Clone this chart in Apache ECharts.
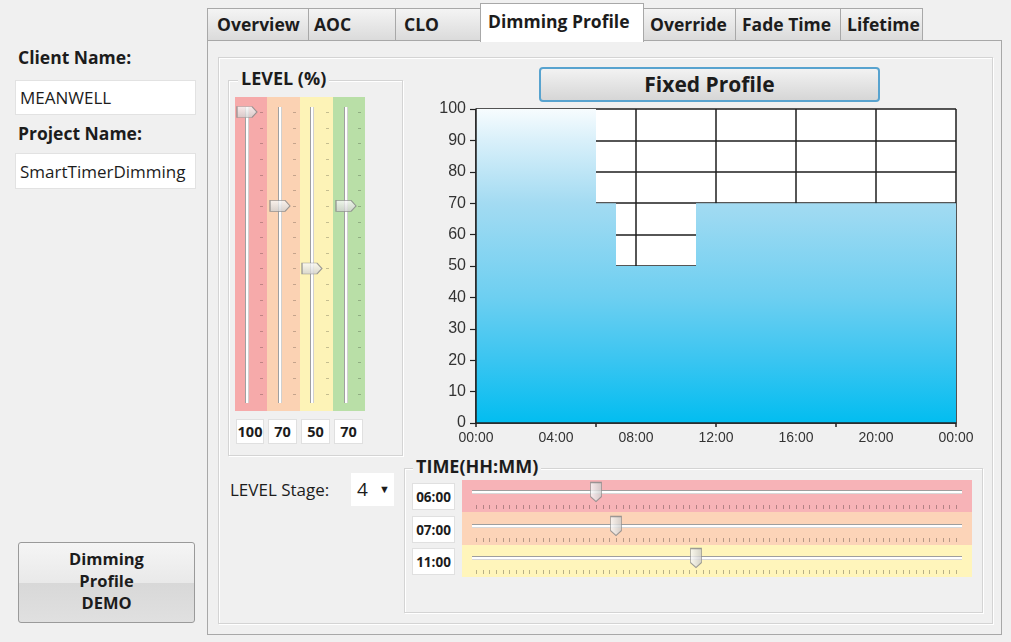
<!DOCTYPE html>
<html><head><meta charset="utf-8">
<script src="https://cdn.jsdelivr.net/npm/echarts@6/dist/echarts.min.js"></script>
<style>
html,body{margin:0;padding:0;background:#f0f0f0;}
#app{position:relative;width:1011px;height:642px;overflow:hidden;background:#f0f0f0;font-family:"Open Sans","Noto Sans",sans-serif;color:#1c1c1c;}
.a{position:absolute;box-sizing:border-box;}
.lbl{font-weight:700;font-size:17.5px;white-space:nowrap;}
.txt{background:#fff;border:1px solid #e2e2e2;font-size:17px;padding-left:4px;display:flex;align-items:center;white-space:nowrap;}
.tab{top:8px;height:33px;border:1px solid #a8a8a8;border-bottom:none;background:linear-gradient(#f4f4f4,#dadada);font-weight:700;font-size:17.5px;line-height:31px;white-space:nowrap;}
.tab.on{top:3px;height:39px;background:#fff;z-index:3;line-height:34px;}
.grp{border:1px solid #d4d4d4;box-shadow:inset 1px 1px 0 #fff,1px 1px 0 #fff;}
.gtitle{font-weight:700;font-size:18px;background:#f0f0f0;padding:0 3px;line-height:20px;}
.vbox{background:#fff;border:1px solid #e0e0e0;font-weight:700;font-size:14.5px;display:flex;align-items:center;justify-content:center;}
#chart{position:absolute;left:0;top:0;width:1011px;height:642px;z-index:10;pointer-events:none;}
</style></head>
<body><div id="app">
  <!-- left side -->
  <div class="a lbl" style="left:18px;top:45px;">Client Name:</div>
  <div class="a txt" style="left:15px;top:80px;width:181px;height:35px;">MEANWELL</div>
  <div class="a lbl" style="left:18px;top:121px;">Project Name:</div>
  <div class="a txt" style="left:15px;top:153px;width:181px;height:36px;">SmartTimerDimming</div>
  <div class="a" style="left:18px;top:542px;width:177px;height:81px;border:1px solid #9a9a9a;border-radius:3px;background:linear-gradient(#f5f5f5 0%,#e9e9e9 50%,#d8d8d8 51%,#e0e0e0 100%);font-weight:700;font-size:16.5px;line-height:22px;text-align:center;padding-top:5px;">Dimming<br>Profile<br>DEMO</div>

  <!-- tabs -->
  <div class="a tab" style="left:207px;width:102px;padding-left:9px;">Overview</div>
  <div class="a tab" style="left:308px;width:88px;padding-left:5px;">AOC</div>
  <div class="a tab" style="left:395px;width:86px;padding-left:8px;">CLO</div>
  <div class="a tab on" style="left:480px;width:164px;padding-left:7px;">Dimming Profile</div>
  <div class="a tab" style="left:643px;width:93px;padding-left:6px;">Override</div>
  <div class="a tab" style="left:735px;width:106px;padding-left:6px;">Fade Time</div>
  <div class="a tab" style="left:840px;width:83px;padding-left:6px;">Lifetime</div>

  <!-- tab panel -->
  <div class="a" style="left:207px;top:40px;width:795px;height:595px;border:1px solid #a8a8a8;background:#f0f0f0;z-index:1;"></div>
  <div class="a grp" style="left:218px;top:57px;width:775px;height:567px;z-index:2;"></div>

  <div id="ui" class="a" style="left:0;top:0;width:1011px;height:642px;z-index:4;">
    <!-- level group -->
    <div class="a grp" style="left:228px;top:80px;width:175px;height:376px;"></div>
    <div class="a gtitle" style="left:238px;top:68px;">LEVEL (%)</div>
    <div id="levelCols"></div>
    <div class="a" style="left:230px;top:478px;font-size:17px;">LEVEL Stage:</div>
    <div class="a" style="left:351px;top:473px;width:43px;height:33px;background:#fff;font-size:19px;line-height:32px;padding-left:6px;">4<span style="position:absolute;left:28px;top:0;font-size:11px;">&#9660;</span></div>
    <!-- time group -->
    <div class="a grp" style="left:404px;top:468px;width:579px;height:145px;"></div>
    <div class="a gtitle" style="left:413px;top:456px;">TIME(HH:MM)</div>
    <div id="timeRows"></div>
    <!-- fixed profile button -->
    <div class="a" style="left:539px;top:67px;width:341px;height:35px;border:2px solid #58a3cf;border-radius:4px;background:linear-gradient(#f2f2f2,#d6d6d6);font-weight:700;font-size:21px;text-align:center;line-height:30px;">Fixed Profile</div>
  </div>
  <div id="chart"></div>
</div>
<script>
// ---------------- data ----------------
const timeLabels = ['00:00','04:00','08:00','12:00','16:00','20:00','00:00'];
const levelValues = [100, 70, 50, 70];
const stageStartHours = [6, 7, 11];
const stageStartLabels = ['06:00','07:00','11:00'];

// ---------------- layout (positions / styles only) ----------------
const levelColColors = ['#f6aaaa','#fbd2b3','#fdf3b7','#b9dfa7'];
const levelColLeft = [235, 267, 300, 333];
const levelColWidth = [32, 33, 33, 32];
const levelTrackX = [247, 280, 312, 346];
const levelBoxes = [[236,28],[268,29],[301,29],[334,29]];
const timeBandColors = ['#f7b3b7','#fcd4b8','#fff5bb'];
const timeBandTop = [480, 512, 545];
const timeBandH = [32, 33, 32];
const timeTrackY = [492, 526, 558];
const timeBoxTop = [483, 516, 548];

const levelCols = document.getElementById('levelCols');
levelValues.forEach((v, i) => {
  levelCols.insertAdjacentHTML('beforeend',
    `<div class="a" style="left:${levelColLeft[i]}px;top:97px;width:${levelColWidth[i]}px;height:314px;background:${levelColColors[i]};"></div>` +
    `<div class="a" style="left:${levelColLeft[i]+levelColWidth[i]-7}px;top:112px;width:3px;height:291px;background:repeating-linear-gradient(to bottom,rgba(0,0,0,.22) 0 1px,transparent 1px 15.65px);"></div>` +
    `<div class="a" style="left:${levelTrackX[i]-2}px;top:107px;width:4px;height:296px;background:#fff;border-left:1px solid #a0a0a0;border-right:1px solid #d0d0d0;"></div>` +
    `<div class="a vbox" style="left:${levelBoxes[i][0]}px;top:419px;width:${levelBoxes[i][1]}px;height:25px;">${v}</div>`);
});
const timeRows = document.getElementById('timeRows');
stageStartLabels.forEach((t, i) => {
  timeRows.insertAdjacentHTML('beforeend',
    `<div class="a" style="left:462px;top:${timeBandTop[i]}px;width:510px;height:${timeBandH[i]}px;background:${timeBandColors[i]};"></div>` +
    `<div class="a" style="left:472px;top:${timeTrackY[i]-2}px;width:490px;height:4px;background:#fff;border-top:1px solid #9e9e9e;border-bottom:1px solid #d8d8d8;"></div>` +
    `<div class="a" style="left:476px;top:${timeBandTop[i]+timeBandH[i]-7}px;width:481px;height:4px;background:repeating-linear-gradient(to right,rgba(0,0,0,.28) 0 1px,transparent 1px 6.667px);"></div>` +
    `<div class="a vbox" style="left:412px;top:${timeBoxTop[i]}px;width:43px;height:27px;font-size:13.5px;">${t}</div>`);
});

// ---------------- chart ----------------
const profile = [[0, levelValues[0]]]
  .concat(stageStartHours.map((h, i) => [h, levelValues[i + 1]]))
  .concat([[24, levelValues[levelValues.length - 1]]]);

const chart = echarts.init(document.getElementById('chart'), null, {renderer: 'canvas'});
const grid = [{left: 476, top: 109, width: 480, height: 314, show: true, backgroundColor: '#ffffff', borderWidth: 0}];
const xAxis = [
  {gridIndex: 0, type: 'value', min: 0, max: 24, interval: 4, z: 0,
   axisLine: {show: false}, axisTick: {show: false},
   axisLabel: {formatter: v => timeLabels[Math.round(v / 4)], color: '#333', fontSize: 14, fontFamily: 'Liberation Sans', margin: 8},
   splitLine: {show: true, lineStyle: {color: '#1e1e1e', width: 1.5}}},
  {gridIndex: 0, type: 'value', min: 0, max: 24, interval: 6, position: 'bottom', z: 5,
   axisLine: {show: true, onZero: false, lineStyle: {color: '#222', width: 1.5}},
   axisTick: {show: true, length: 4, lineStyle: {color: '#222', width: 1.5}},
   axisLabel: {show: false}, splitLine: {show: false}}
];
const yAxis = [
  {gridIndex: 0, type: 'value', min: 0, max: 100, interval: 10, z: 0,
   axisLine: {show: false}, axisTick: {show: false}, axisLabel: {show: false},
   splitLine: {show: true, lineStyle: {color: '#1e1e1e', width: 1.5}}},
  {gridIndex: 0, type: 'value', min: 0, max: 100, interval: 10, position: 'left', z: 5,
   axisLine: {show: true, onZero: false, lineStyle: {color: '#222', width: 1.5}},
   axisTick: {show: true, length: 6, lineStyle: {color: '#222', width: 1.2}},
   axisLabel: {color: '#333', fontSize: 16, fontFamily: 'Liberation Sans', margin: 10},
   splitLine: {show: false}}
];
const series = [{
  type: 'line', xAxisIndex: 0, yAxisIndex: 0, step: 'end', data: profile, symbol: 'none', z: 2,
  lineStyle: {width: 0, opacity: 0},
  areaStyle: {opacity: 1, color: new echarts.graphic.LinearGradient(0, 0, 0, 1, [
    {offset: 0, color: '#f7fcfe'}, {offset: 0.1, color: '#d9f0fa'}, {offset: 0.3, color: '#a3dbf2'},
    {offset: 0.6, color: '#6dcff1'}, {offset: 0.8, color: '#3ac5f1'}, {offset: 1, color: '#02bdf0'}])}
}];
const thumbFill = new echarts.graphic.LinearGradient(0, 0, 0, 1, [{offset: 0, color: '#fbfbfb'}, {offset: 1, color: '#cfcfcf'}]);
const thumbFillH = new echarts.graphic.LinearGradient(0, 0, 1, 0, [{offset: 0, color: '#fbfbfb'}, {offset: 1, color: '#c9c9c9'}]);
levelValues.forEach((v, i) => {
  const gi = grid.length;
  grid.push({left: levelTrackX[i] - 10, top: 112, width: 20, height: 313});
  xAxis.push({gridIndex: gi, type: 'value', min: 0, max: 1, show: false});
  yAxis.push({gridIndex: gi, type: 'value', min: 0, max: 100, show: false});
  series.push({type: 'scatter', xAxisIndex: xAxis.length - 1, yAxisIndex: yAxis.length - 1, z: 6,
    data: [[0.5, v]], symbol: 'path://M0,0 L15,0 L20,5 L15,10 L0,10 Z', symbolSize: [20, 11],
    itemStyle: {color: thumbFill, borderColor: '#858585', borderWidth: 1}});
});
stageStartHours.forEach((h, i) => {
  const gi = grid.length;
  grid.push({left: 476, top: timeTrackY[i] - 5, width: 480, height: 10});
  xAxis.push({gridIndex: gi, type: 'value', min: 0, max: 24, show: false});
  yAxis.push({gridIndex: gi, type: 'value', min: 0, max: 1, show: false});
  series.push({type: 'scatter', xAxisIndex: xAxis.length - 1, yAxisIndex: yAxis.length - 1, z: 6,
    data: [[h, 0.5]], symbol: 'path://M0,0 L10,0 L10,14 L5,19 L0,14 Z', symbolSize: [11, 19],
    itemStyle: {color: thumbFillH, borderColor: '#858585', borderWidth: 1}});
});
chart.setOption({animation: false, grid, xAxis, yAxis, series});
</script>
</body></html>
